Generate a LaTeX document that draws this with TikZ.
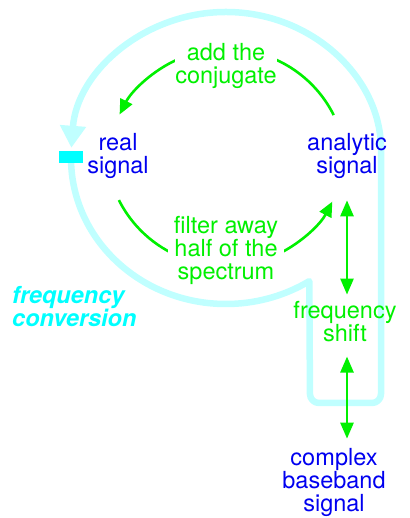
\documentclass[tikz,border=0pt]{standalone}
\usepackage{fontspec}
\setmainfont{TeX Gyre Heros}
\usetikzlibrary{arrows.meta}
\definecolor{sigblue}{RGB}{0,0,240}
\definecolor{opgreen}{RGB}{0,240,0}
\definecolor{pathcyan}{RGB}{192,255,255}
\definecolor{markcyan}{RGB}{0,255,255}
\begin{document}
\begin{tikzpicture}[x=1pt,y=1pt,
  txt/.style={font=\fontsize{23.5}{23}\selectfont, align=center, inner sep=0pt, anchor=base},
  sig/.style={txt, text=sigblue},
  op/.style={txt, text=opgreen},
  gar/.style={draw=opgreen, line width=2.6pt, -{Triangle[length=15pt,width=13pt]}},
  dbl/.style={draw=opgreen, line width=2.6pt, {Triangle[length=16pt,width=13pt]}-{Triangle[length=16pt,width=13pt]}},
  loopline/.style={draw=pathcyan, line width=6.5pt, line join=round, -{Triangle[length=22pt,width=25pt]}},
]
\useasboundingbox (0,0) rectangle (409,518);
% frequency conversion loop
\coordinate (loopc) at (226,360);
\draw[loopline] (loopc) ++(182:155 and 146)
   arc[start angle=182, end angle=302.5, x radius=155, y radius=146]
   [rounded corners=9pt] -- (310,115) -- (381,115) -- (381,360)
   arc[start angle=0, end angle=176, x radius=155, y radius=146];
\node[fill=markcyan, minimum width=24pt, minimum height=12pt, inner sep=0pt] (mark) at (71,361) {};
\node[anchor=base west, text=markcyan, font=\fontsize{23.5}{21}\selectfont\bfseries\itshape, align=left, inner sep=0pt] (conv) at (12,191) {frequency\\conversion};
% signals (anchor = baseline of the last line)
\node[sig] (real) at (118,344) {real\\signal};
\node[sig] (analytic) at (347,344) {analytic\\signal};
\node[op] (shift) at (345,176) {frequency\\shift};
\node[sig] (complex) at (334,6) {complex\\baseband\\signal};
% arcs
\coordinate (topc) at (226.5,349);
\coordinate (botc) at (226,372);
\draw[gar] ([shift={(26.7:120)}]topc) arc[start angle=26.7, end angle=153, radius=120];
\draw[gar] ([shift={(206.8:120)}]botc) arc[start angle=206.8, end angle=332.4, radius=120];
\node[op, fill=white] (conj) at (226,434) {add the\\conjugate};
\node[op, fill=white, inner xsep=6pt] (filter) at (226,238) {filter away\\half of the\\spectrum};
% vertical arrows
\draw[dbl] ([yshift=-21pt]analytic.south) -- ([yshift=7pt]analytic.south |- shift.north);
\draw[dbl] ([yshift=-14pt]analytic.south |- shift.south) -- ([yshift=10pt]analytic.south |- complex.north);
\end{tikzpicture}
\end{document}
